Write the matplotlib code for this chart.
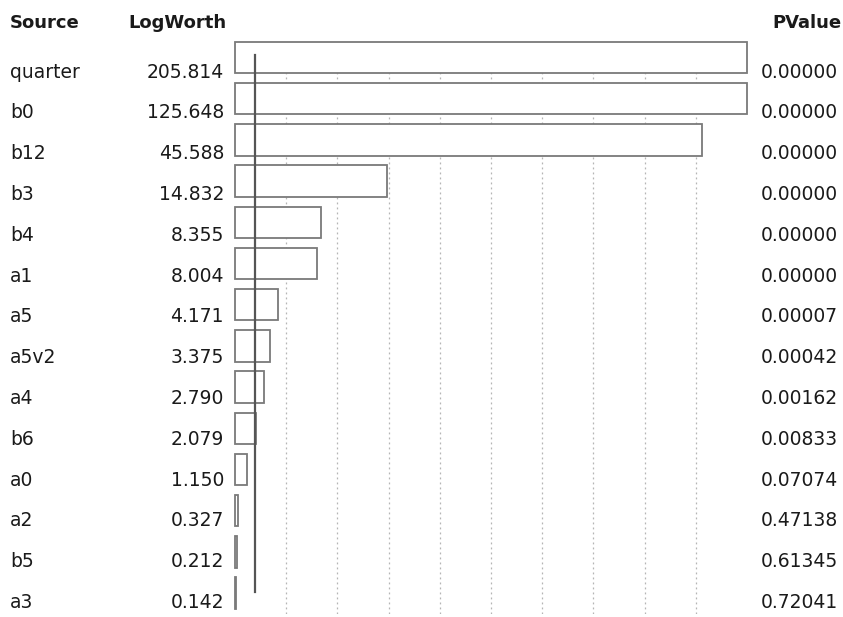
"""Effect summary table: LogWorth bars with source names and p-values."""

from matplotlib import pyplot as plt
import numpy as np

sources = ["quarter", "b0", "b12", "b3", "b4", "a1", "a5", "a5v2",
           "a4", "b6", "a0", "a2", "b5", "a3"]
logworth = [205.814, 125.648, 45.588, 14.832, 8.355, 8.004, 4.171, 3.375,
            2.790, 2.079, 1.150, 0.327, 0.212, 0.142]
pvalues = ["0.00000", "0.00000", "0.00000", "0.00000", "0.00000", "0.00000",
           "0.00007", "0.00042", "0.00162", "0.00833", "0.07074", "0.47138",
           "0.61345", "0.72041"]
axis_max = 50
ref_line = 2
grid_ticks = np.arange(5, 50, 5)

W, H = 843, 617
plt.rcParams["font.family"] = ["DejaVu Sans"]
fig = plt.figure(figsize=(W / 100, H / 100), dpi=100)

# bar panel (pixel layout of the JMP report)
n = len(sources)
pitch = 41.2
top = 57.5 - pitch / 2
bottom = top + n * pitch
x0, x1 = 235, 747
ax = fig.add_axes([x0 / W, 1 - bottom / H, (x1 - x0) / W, (bottom - top) / H])
ax.set_xlim(0, axis_max)
ax.set_ylim(n - 0.5, -0.5)
ax.axis("off")

# dotted grid, starting at the top of the first bar
ax.vlines(grid_ticks, -0.38, n - 0.5, color="#b5b5b5", lw=0.9,
          linestyles=[(0, (1.5, 2.5))], zorder=1)

y = np.arange(n)
widths = np.minimum(np.array(logworth), axis_max)
ax.barh(y, widths, height=0.76, color="white", edgecolor="#7a7a7a",
        linewidth=1.3, zorder=2, clip_on=False)
ax.axvline(ref_line, ymin=0.037, ymax=0.968, color="#555555", lw=1.6, zorder=3)

# text columns
tx = fig.add_axes([0, 0, 1, 1])
tx.set_xlim(0, W)
tx.set_ylim(H, 0)
tx.axis("off")
tx.patch.set_alpha(0)

fs = 13.5
col = "#1a1a1a"
tx.text(10, 27.5, "Source", fontsize=13, fontweight="bold", va="baseline", color=col)
tx.text(227, 27.5, "LogWorth", fontsize=13, fontweight="bold", va="baseline", ha="right", color=col)
tx.text(842, 27.5, "PValue", fontsize=13, fontweight="bold", va="baseline", ha="right", color=col)

for i, (s, lw_, p) in enumerate(zip(sources, logworth, pvalues)):
    yy = 77.5 + 40.8 * i
    tx.text(10, yy, s, fontsize=fs, va="baseline", color=col)
    tx.text(224, yy, f"{lw_:.3f}", fontsize=fs, va="baseline", ha="right", color=col)
    tx.text(761, yy, p, fontsize=fs, va="baseline", ha="left", color=col)

fig.savefig("out.png", dpi=100, facecolor="white")
